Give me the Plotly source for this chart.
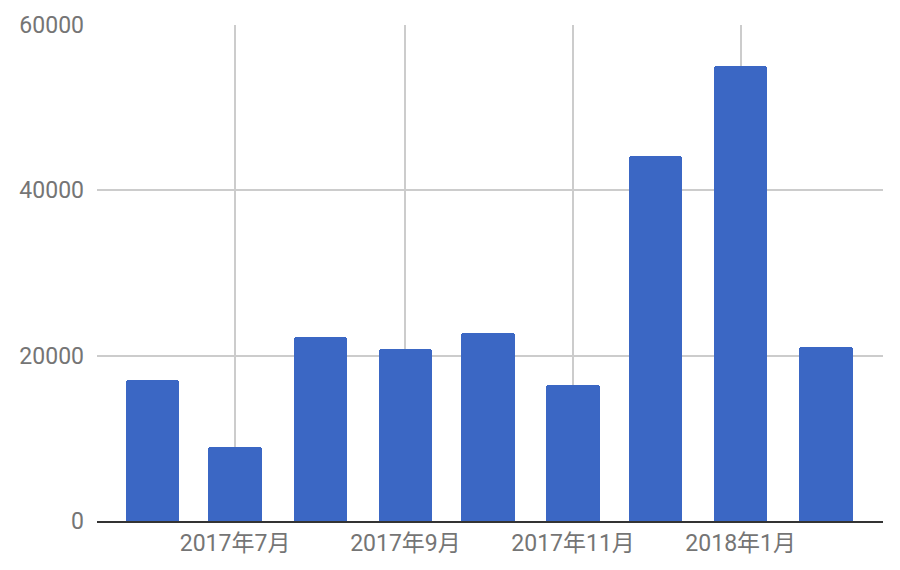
import plotly.graph_objects as go

# monthly totals
months = ['2017-06-01', '2017-07-01', '2017-08-01', '2017-09-01', '2017-10-01',
          '2017-11-01', '2017-12-01', '2018-01-01', '2018-02-01']
values = [17000, 9000, 22300, 20800, 22750, 16500, 44100, 55000, 21100]

tick_dates = ['2017-07-01', '2017-09-01', '2017-11-01', '2018-01-01']
tick_labels = ['2017年7月', '2017年9月', '2017年11月', '2018年1月']
y_ticks = [0, 20000, 40000, 60000]

font_family = "Roboto, 'Noto Sans CJK JP', sans-serif"
text_color = '#757575'
grid_color = '#cccccc'

fig = go.Figure()

fig.add_trace(go.Bar(
    x=months,
    y=values,
    width=19.4 * 24 * 3600 * 1000,
    marker=dict(color='#3b67c4', cornerradius=3, line=dict(width=0)),
    hovertemplate='%{x|%Y年%-m月}: %{y}<extra></extra>'
))

# page body has an 8px margin, so the figure is a bit smaller than the window
fig.update_layout(
    width=892,
    height=562,
    margin=dict(l=89, r=17, t=17, b=49),
    plot_bgcolor='white',
    paper_bgcolor='white',
    showlegend=False,
    bargap=0,
    font=dict(family=font_family, color=text_color, size=23),
)

fig.update_xaxes(
    type='date',
    range=['2017-05-11 18:00', '2018-02-21 19:00'],
    tickvals=tick_dates,
    ticktext=tick_labels,
    showgrid=True,
    gridcolor=grid_color,
    gridwidth=1.5,
    showline=True,
    linecolor='#333333',
    linewidth=2,
    ticks='',
    ticklabelstandoff=0,
    tickfont=dict(size=23, color=text_color),
    zeroline=False,
    automargin=False,
)

fig.update_yaxes(
    range=[0, 60000],
    tickvals=y_ticks,
    ticktext=[str(v) for v in y_ticks],
    showgrid=True,
    gridcolor=grid_color,
    gridwidth=1.5,
    zeroline=False,
    showline=False,
    ticks='',
    ticklabelstandoff=12,
    tickfont=dict(size=23, color=text_color),
    automargin=False,
)

fig.write_html("out.html")
